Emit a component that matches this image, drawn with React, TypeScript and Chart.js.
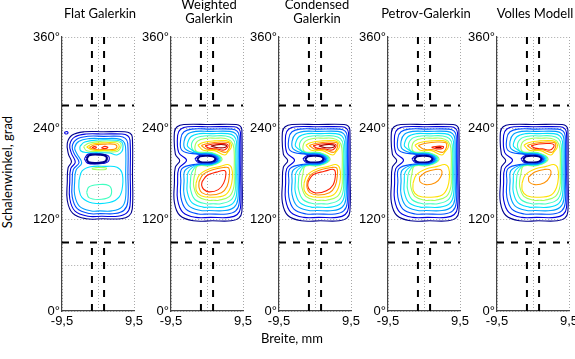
import React, { useEffect, useRef } from "react";
import { Chart, registerables } from "chart.js";
Chart.register(...registerables);

type Pt = [number, number];
type Contour = { level: number; pts: Pt[]; width?: number };

// ---------- axes / labels ----------
const X_MIN = -9.5;
const X_MAX = 9.5;
const X_TICK_VALUES = [-9.5, 0, 9.5];
const X_TICK_LABELS = ["-9,5", "", "9,5"];
const Y_MIN = 0;
const Y_MAX = 360;
const Y_STEP = 60;
const Y_LABELED = [0, 120, 240, 360];
const PANEL_TITLES = [["Flat Galerkin"], ["Weighted", "Galerkin"], ["Condensed", "Galerkin"], ["Petrov-Galerkin"], ["Volles Modell"]];
const Y_TITLE = "Schalenwinkel, grad";
const X_TITLE = "Breite, mm";
// dashed markers
const GAP_X = [-1.6, 1.6];
const GAP_Y_LOW = 90;
const GAP_Y_HIGH = 270;

// contour level colours (jet, low -> high)
const LEVEL_COLORS = ["#00008F", "#0000E0", "#0050FF", "#00A0FF", "#00E0FF", "#40FFC0", "#A0FF60", "#FFE000", "#FF9000", "#FF2000", "#A00000"];

// ---------- Flat Galerkin contours ----------
const P1_R1: Pt[] = [[1.5,235.5],[7.05,235.5],[8.47,233.47],[9.05,228.5],[9.1,180],[9.05,134.2],[8.18,124.97],[6.05,121.2],[1.2,121.2],[-3.1,121.2],[-6.65,128.16],[-8.1,145.2],[-8.1,170],[-7.9,188],[-7.0,196],[-7.8,206],[-8.1,220.5],[-6.79,231.15],[-3.6,235.5],[1.5,235.5]];
const P1_R2: Pt[] = [[1.5,232.5],[6.35,232.5],[7.84,230.18],[8.45,224.5],[8.5,180],[8.45,138.5],[7.52,128.56],[5.25,124.5],[1.0,124.5],[-2.65,124.5],[-6.06,131.17],[-7.45,147.5],[-7.45,170],[-7.2,187],[-6.0,195.5],[-7.0,207],[-7.45,218.5],[-6.2,228.44],[-3.15,232.5],[1.5,232.5]];
const P1_R3: Pt[] = [[1.5,229.5],[5.65,229.5],[7.21,226.89],[7.85,220.5],[7.9,180],[7.85,143],[6.86,132.35],[4.45,128],[0.7,128],[-2.2,128],[-5.47,134.38],[-6.8,150],[-6.8,170],[-6.5,186],[-5.0,195],[-6.3,207],[-6.8,216.5],[-5.61,225.73],[-2.7,229.5],[1.5,229.5]];
const P1_R4: Pt[] = [[1.3,226.5],[4.95,226.5],[6.58,223.6],[7.25,216.5],[7.3,180],[7.25,147.5],[6.21,136.14],[3.65,131.5],[0.5,131.5],[-1.75,131.5],[-4.87,137.59],[-6.15,152.5],[-6.15,170],[-5.8,185],[-4.3,194.5],[-5.6,207],[-6.15,214.5],[-5.02,223.02],[-2.25,226.5],[1.3,226.5]];
const P1_UP_5: Pt[] = [[-4.8,216],[-3.5,222],[0,224.6],[5,224.4],[6.3,222],[6.6,217],[6.3,209.5],[5,205],[3,207.5],[0,208],[-3,208.2],[-4.6,210.5],[-4.8,216]];
const P1_UP_7: Pt[] = [[-3.8,216],[-2.5,220.5],[1,223],[5,222.8],[6.0,220.5],[6.0,215],[5.2,210],[3.5,209],[0,209.5],[-3.0,210.5],[-3.8,216]];
const P1_UP_8: Pt[] = [[-3.0,215.5],[-1.5,219.3],[1.5,221],[4.5,221],[5.5,218.5],[5.4,213.5],[4.5,211],[1.5,210.8],[-1.5,211.5],[-3.0,215.5]];
const P1_UP_9: Pt[] = [[-2.3,215],[-1,218],[2,219.3],[4.3,219],[5.0,216],[4.3,212.5],[1.5,212],[-1.2,212.5],[-2.3,215]];
const P1_UP_10A: Pt[] = [[-1.6,214.5],[-1.0,216],[-0.4,215],[-1.0,213.5],[-1.6,214.5]];
const P1_UP_10B: Pt[] = [[0.9,214.5],[1.8,216.3],[2.6,215],[1.8,213.3],[0.9,214.5]];
const P1_HOLE_1: Pt[] = [[-3.0,200],[-2.3,204.8],[0.5,205.4],[2.2,203],[2.0,196.5],[0,194.5],[-2.5,195.5],[-3.0,200]];
const P1_HOLE_2: Pt[] = [[-3.6,200],[-2.6,206.2],[0.5,206.8],[2.8,203.5],[2.6,196],[0,193.3],[-2.8,194.3],[-3.6,200]];
const P1_LOW_5: Pt[] = [[-5.0,172],[-4.2,184],[-2,189.5],[2,190],[5,189],[6.3,182],[6.5,165],[5.6,150],[3,142.5],[-1.5,142],[-4.2,149],[-5.0,160],[-5.0,172]];
const P1_LOW_6: Pt[] = [[-3.0,156],[-2.4,163],[0,166],[2.8,165],[3.6,157],[2.8,149],[0,146.5],[-2.4,149],[-3.0,156]];
const P1_LOW_7: Pt[] = [[-1.6,187.3],[0,188.7],[2.2,188],[2.0,186],[0,185.6],[-1.4,186.2],[-1.6,187.3]];
const P1_SPECK: Pt[] = [[-8.9,234.5],[-8.2,235.8],[-7.9,234],[-8.5,232.5],[-8.9,234.5]];

// ---------- shared rings of the other four models ----------
const R1: Pt[] = [[0.8,245],[7.7,245],[8.77,242.97],[9.2,238],[9.25,180],[9.2,130.5],[8.39,121.98],[6.4,118.5],[1.4,118.5],[-3.6,118.5],[-7.15,125.5],[-8.6,142.5],[-8.6,168],[-8.35,189],[-7.2,197.5],[-8.35,206],[-8.6,235],[-7.88,242.1],[-6.1,245],[0.8,245]];
const R2: Pt[] = [[0.8,242],[7.15,242],[8.36,239.68],[8.85,234],[8.9,180],[8.85,136],[7.98,126.77],[5.85,123],[1.0,123],[-2.95,123],[-6.36,129.67],[-7.75,146],[-7.75,168],[-7.45,187],[-5.4,198],[-7.45,208],[-7.75,231],[-6.97,238.81],[-5.05,242],[0.8,242]];
const R3: Pt[] = [[0.8,239],[6.6,239],[7.95,236.39],[8.5,230],[8.55,180],[8.5,141.5],[7.57,131.56],[5.3,127.5],[0.5,127.5],[-2.3,127.5],[-5.57,133.88],[-6.9,149.5],[-6.9,170],[-6.6,187],[-2.5,193.2],[1.2,194.0],[2.8,199.5],[1.2,205.3],[-2.5,206.1],[-6.6,211],[-6.9,227],[-6.06,235.52],[-4.0,239],[0.8,239]];
const R4: Pt[] = [[0.8,236],[6.05,236],[7.54,233.1],[8.15,226],[8.2,180],[8.15,147],[7.16,136.35],[4.75,132],[0.5,132],[-1.65,132],[-4.77,138.09],[-6.05,153],[-6.05,170],[-5.75,185],[-2.5,192.5],[1.2,193.3],[3.1,199.5],[1.2,206.0],[-2.5,206.8],[-5.75,213],[-6.05,223],[-5.15,232.23],[-2.95,236],[0.8,236]];
const R5: Pt[] = [[0.8,233],[5.5,233],[7.13,229.81],[7.8,222],[7.85,180],[7.8,152.5],[6.76,141.14],[4.2,136.5],[0.5,136.5],[-1.0,136.5],[-3.98,142.3],[-5.2,156.5],[-5.2,170],[-4.9,183],[-2.5,191.8],[1.2,192.6],[3.4,199.5],[1.2,206.7],[-2.5,207.5],[-4.9,215],[-5.2,219],[-4.24,228.94],[-1.9,233],[0.8,233]];
const R6: Pt[] = [[1.5,230],[4.95,230],[6.72,226.52],[7.45,218],[7.5,180],[7.45,158],[6.35,145.93],[3.65,141],[1.6,141],[-0.35,141],[-3.19,146.51],[-4.35,160],[-4.35,171],[-4.05,181.5],[-2.5,191.1],[1.2,191.9],[3.7,199.5],[1.2,207.4],[-2.5,208.2],[-4.05,215],[-3.33,225.94],[-0.85,230],[1.5,230]];
const R7: Pt[] = [[2.2,227],[4.4,227],[6.32,223.23],[7.1,214],[7.15,180],[7.1,163.5],[5.94,150.72],[3.1,145.5],[1.7,145.5],[0.3,145.5],[-2.4,150.72],[-3.5,163.5],[-3.5,172],[-3.2,180],[-2.5,190.4],[1.2,191.2],[4.0,199.5],[1.2,208.1],[-2.5,208.9],[-3.2,214],[-2.48,223.23],[0,227],[2.2,227]];
const HOLE_1: Pt[] = [[-2.6,199.5],[-1.8,203.1],[0,204.0],[1.5,203.1],[2.2,200],[1.6,196.2],[0,195.1],[-1.8,195.9],[-2.6,199.5]];
const HOLE_2: Pt[] = [[-3.2,199.5],[-2.2,204.1],[0,204.7],[1.8,203.8],[2.5,200],[1.9,195.5],[0,194.7],[-2.2,195.0],[-3.2,199.5]];

// upper lobe
const UP_8: Pt[] = [[-2.4,218],[-1,221.5],[2,223.5],[5.0,223.8],[6.2,221],[6.4,215],[5.6,209.5],[4.7,205],[2,210.7],[-1,211.2],[-2.4,218]];
const UP_9: Pt[] = [[-1.5,217.5],[0.5,220.5],[3.5,222],[5.6,221.3],[6.0,218.5],[5.8,213.5],[5.0,208.5],[2.5,211.8],[0,212.5],[-1.5,217.5]];
const UP_10: Pt[] = [[-0.5,217],[1.5,219.5],[4.5,220],[5.5,218.5],[5.4,215],[4.5,211.5],[2.5,213],[0.5,214],[-0.5,217]];
const UP_11: Pt[] = [[1.0,216.8],[3,218.6],[4.8,218.3],[5.2,216.5],[4.3,214.5],[2.5,214.8],[1.0,216.8]];
const UP_10_SMALL: Pt[] = [[2.0,215],[3.5,216.5],[5.1,216],[4.9,213.5],[3.3,213],[2.0,215]];
const UP_11_TINY: Pt[] = [[3.0,215.2],[4.2,215.6],[4.5,214.7],[3.4,214.4],[3.0,215.2]];
// lower lobe
const LOW_8: Pt[] = [[-2.9,168],[-2.0,179],[0.5,186.5],[3.5,190],[5.5,192.5],[6.5,188],[6.7,175],[6.2,162],[4.8,152.5],[1.5,149.5],[-1.6,151.5],[-2.8,158],[-2.9,168]];
const LOW_9: Pt[] = [[-2.1,170],[-1.0,179.5],[1.5,185.5],[4.3,188.5],[5.7,188],[5.9,178],[5.3,164],[3.8,155.5],[0.8,152.5],[-1.4,155.5],[-2.1,162],[-2.1,170]];
const LOW_10: Pt[] = [[-1.3,170],[0,178],[2.5,182.5],[4.6,184.5],[5.0,180],[4.4,168],[3.0,159.5],[0.5,156.5],[-0.9,160],[-1.4,165],[-1.3,170]];
const LOW_10_BIG: Pt[] = [[-1.8,170],[-0.5,179],[2.5,183.5],[4.9,186],[5.4,180],[4.8,166],[3,158],[0.3,155],[-1.3,158.5],[-1.9,164],[-1.8,170]];
const LOW_9_SMALL: Pt[] = [[-1.2,176],[0.5,182.5],[3.0,186],[4.6,185],[4.4,176],[3.0,168.5],[0.5,166],[-1.0,169.5],[-1.2,176]];

const RINGS: Contour[] = [
  { level: 1, pts: R1 }, { level: 2, pts: R2 }, { level: 3, pts: R3 }, { level: 4, pts: R4 },
  { level: 5, pts: R5 }, { level: 6, pts: R6 }, { level: 7, pts: R7 },
  { level: 1, pts: HOLE_1, width: 2 }, { level: 2, pts: HOLE_2 },
];

const PANEL_CONTOURS: Contour[][] = [
  [
    { level: 1, pts: P1_R1 }, { level: 2, pts: P1_R2 }, { level: 3, pts: P1_R3 }, { level: 4, pts: P1_R4 },
    { level: 5, pts: P1_UP_5 }, { level: 7, pts: P1_UP_7 }, { level: 8, pts: P1_UP_8 }, { level: 9, pts: P1_UP_9 },
    { level: 10, pts: P1_UP_10A }, { level: 10, pts: P1_UP_10B },
    { level: 1, pts: P1_HOLE_1, width: 2.2 }, { level: 2, pts: P1_HOLE_2 },
    { level: 5, pts: P1_LOW_5 }, { level: 6, pts: P1_LOW_6 }, { level: 7, pts: P1_LOW_7 },
    { level: 2, pts: P1_SPECK },
  ],
  [...RINGS, { level: 8, pts: UP_8 }, { level: 9, pts: UP_9 }, { level: 10, pts: UP_10 }, { level: 11, pts: UP_11 },
    { level: 8, pts: LOW_8 }, { level: 9, pts: LOW_9 }, { level: 10, pts: LOW_10 }],
  [...RINGS, { level: 8, pts: UP_8 }, { level: 9, pts: UP_9 }, { level: 10, pts: UP_10 }, { level: 11, pts: UP_11 },
    { level: 8, pts: LOW_8 }, { level: 9, pts: LOW_9 }, { level: 10, pts: LOW_10_BIG }],
  [...RINGS, { level: 8, pts: UP_8 }, { level: 9, pts: UP_9 }, { level: 10, pts: UP_10_SMALL }, { level: 11, pts: UP_11_TINY },
    { level: 8, pts: LOW_8 }, { level: 9, pts: LOW_9_SMALL }],
  [...RINGS, { level: 8, pts: UP_8 }, { level: 9, pts: UP_9 }, { level: 10, pts: UP_10 },
    { level: 8, pts: LOW_8 }, { level: 9, pts: LOW_9_SMALL }],
];

// ---------- layout ----------
const AXIS_LEFT = [62, 171, 279, 388, 497];
const PLOT_W = 72;
const CANVAS_TOP = 20;
const LEFT_W = 45;
const RIGHT_PAD = 14;
const TOP_PAD = 17;
const XAXIS_H = 25;
const CANVAS_W = LEFT_W + PLOT_W + RIGHT_PAD;
const CANVAS_H = 291 + XAXIS_H;

const TICK_FONT = { family: "'Liberation Sans', Arial, sans-serif", size: 13 };
const TEXT_FONT = "Lato, 'Open Sans', sans-serif";

function makeConfig(contours: Contour[]): any {
  const datasets: any[] = contours.map((c) => ({
    data: c.pts.map(([x, y]) => ({ x, y })),
    showLine: true,
    borderColor: LEVEL_COLORS[c.level - 1],
    borderWidth: c.width ?? 1.1,
    pointRadius: 0,
    tension: 0.4,
    fill: false,
  }));
  const dash = (data: { x: number; y: number }[]) => ({
    data, showLine: true, borderColor: "#000", borderWidth: 2, borderDash: [7, 7], pointRadius: 0, tension: 0, fill: false,
  });
  datasets.push(dash([{ x: X_MIN, y: GAP_Y_HIGH }, { x: X_MAX, y: GAP_Y_HIGH }]));
  datasets.push(dash([{ x: X_MIN, y: GAP_Y_LOW }, { x: X_MAX, y: GAP_Y_LOW }]));
  for (const gx of GAP_X) {
    datasets.push(dash([{ x: gx, y: Y_MAX }, { x: gx, y: GAP_Y_HIGH }]));
    datasets.push(dash([{ x: gx, y: Y_MIN }, { x: gx, y: GAP_Y_LOW }]));
  }
  const gridOpts = { color: "#a8a8a8", lineWidth: 1, drawTicks: false };
  const borderOpts = { display: true, color: "#444", width: 1.2, dash: [1, 2] };
  return {
    type: "scatter",
    data: { datasets },
    options: {
      responsive: false,
      animation: false,
      devicePixelRatio: 1,
      events: [],
      layout: { padding: { top: TOP_PAD, right: RIGHT_PAD, left: 0, bottom: 0 } },
      plugins: { legend: { display: false }, tooltip: { enabled: false }, title: { display: false } },
      scales: {
        x: {
          type: "linear", min: X_MIN, max: X_MAX,
          afterBuildTicks: (s: any) => { s.ticks = X_TICK_VALUES.map((v) => ({ value: v })); },
          afterFit: (s: any) => { s.height = XAXIS_H; },
          ticks: { callback: (_v: any, i: number) => X_TICK_LABELS[i], font: TICK_FONT, color: "#000", padding: 3, maxRotation: 0, autoSkip: false },
          grid: gridOpts,
          border: borderOpts,
        },
        y: {
          type: "linear", min: Y_MIN, max: Y_MAX,
          afterFit: (s: any) => { s.width = LEFT_W; },
          ticks: { stepSize: Y_STEP, callback: (v: any) => (Y_LABELED.includes(Number(v)) ? `${v}°` : ""), font: TICK_FONT, color: "#000", padding: 2, autoSkip: false },
          grid: gridOpts,
          border: borderOpts,
        },
      },
    },
  };
}

export default function App() {
  const refs = useRef<(HTMLCanvasElement | null)[]>([]);
  useEffect(() => {
    const charts = PANEL_CONTOURS.map((c, i) => new Chart(refs.current[i] as HTMLCanvasElement, makeConfig(c)));
    return () => charts.forEach((ch) => ch.destroy());
  }, []);
  return (
    <div style={{ position: "absolute", left: 0, top: 0, width: 575, height: 359, background: "#fff", overflow: "hidden" }}>
      {PANEL_CONTOURS.map((_, i) => (
        <canvas
          key={i}
          ref={(el) => { refs.current[i] = el; }}
          width={CANVAS_W}
          height={CANVAS_H}
          style={{ position: "absolute", left: AXIS_LEFT[i] - LEFT_W, top: CANVAS_TOP, width: CANVAS_W, height: CANVAS_H }}
        />
      ))}
      {PANEL_TITLES.map((lines, i) => (
        <div
          key={"t" + i}
          style={{
            position: "absolute", left: AXIS_LEFT[i] + PLOT_W / 2 + 2, top: lines.length > 1 ? -3 : 6,
            transform: "translateX(-50%)", font: `13px ${TEXT_FONT}`, lineHeight: "14px", textAlign: "center", whiteSpace: "nowrap", color: "#000",
          }}
        >
          {lines.map((l, j) => (<div key={j}>{l}</div>))}
        </div>
      ))}
      <div style={{ position: "absolute", left: 7, top: 172, transform: "translate(-50%, -50%) rotate(-90deg)", font: `13px ${TEXT_FONT}`, whiteSpace: "nowrap", color: "#000" }}>
        {Y_TITLE}
      </div>
      <div style={{ position: "absolute", left: 292, top: 338, transform: "translate(-50%, -50%)", font: `13px ${TEXT_FONT}`, whiteSpace: "nowrap", color: "#000" }}>
        {X_TITLE}
      </div>
    </div>
  );
}
